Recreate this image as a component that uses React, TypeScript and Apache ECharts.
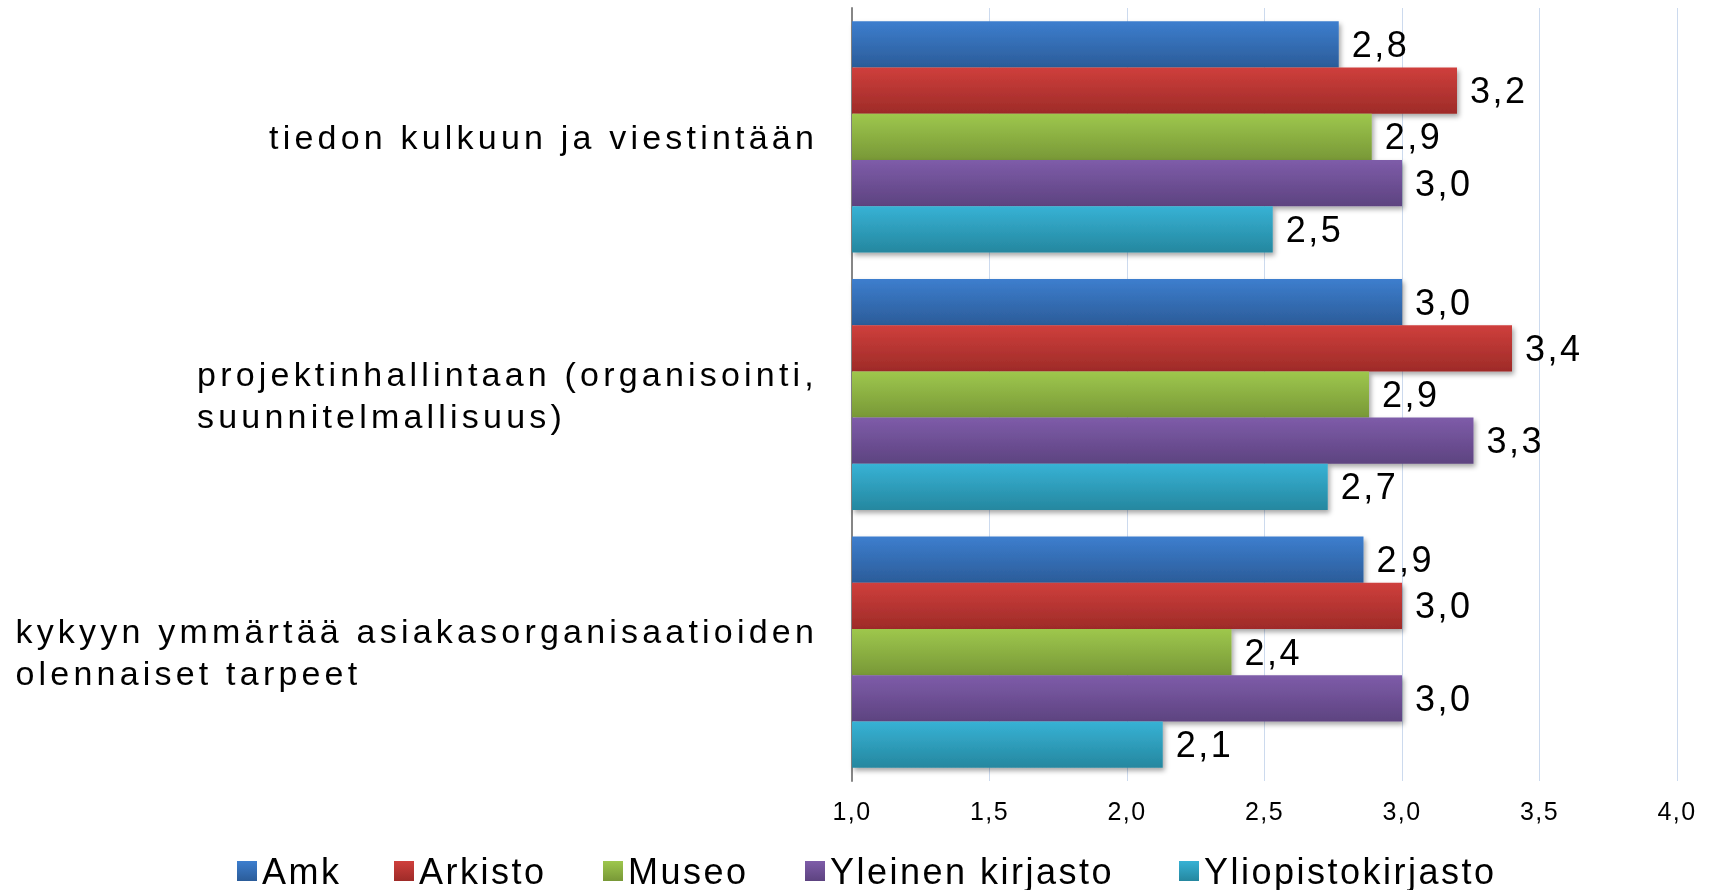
import { useEffect, useRef } from "react";
import * as echarts from "echarts";

// ---- data ----
const categories = [
  "tiedon kulkuun ja viestintään",
  "projektinhallintaan (organisointi,\nsuunnitelmallisuus)",
  "kykyyn ymmärtää asiakasorganisaatioiden\nolennaiset tarpeet",
];
const seriesNames = ["Amk", "Arkisto", "Museo", "Yleinen kirjasto", "Yliopistokirjasto"];
const amk = [2.77, 3.0, 2.86];
const arkisto = [3.2, 3.4, 3.0];
const museo = [2.89, 2.88, 2.38];
const yleinen = [3.0, 3.26, 3.0];
const yliopisto = [2.53, 2.73, 2.13];
const seriesValues = [amk, arkisto, museo, yleinen, yliopisto];
const xMin = 1;
const xMax = 4;
const xStep = 0.5;

// ---- styles ----
const gradientStops: [string, string][] = [
  ["#3D7ECE", "#2B5C99"],
  ["#CF3F3C", "#9E2B28"],
  ["#9EC74D", "#789837"],
  ["#7E5CA9", "#5D4380"],
  ["#37B2D5", "#25879F"],
];
const legendLefts = [232, 389, 598, 800, 1174];
const FONT = '"Liberation Sans", Arial, sans-serif';
const CAT_FONT_SIZE = 34;
const CAT_SPACING = 4.2;

const fmt = (v: number) => v.toFixed(1).replace(".", ",");

function measure(text: string, font: string, spacing: number) {
  const ctx = document.createElement("canvas").getContext("2d");
  if (!ctx) return text.length * 18;
  ctx.font = font;
  return ctx.measureText(text).width + text.length * spacing;
}

export default function App() {
  const ref = useRef<HTMLDivElement>(null);

  useEffect(() => {
    const el = ref.current;
    if (!el) return;
    const chart = echarts.init(el, undefined, { renderer: "svg" });

    const rich: Record<string, any> = {};
    categories.forEach((c, i) => {
      const lines = c.split("\n");
      const w = Math.max(
        ...lines.map((l) => measure(l, `${CAT_FONT_SIZE}px ${FONT}`, CAT_SPACING))
      );
      rich["c" + i] = {
        width: w,
        align: "left",
        fontSize: CAT_FONT_SIZE,
        lineHeight: 42,
        fontFamily: FONT,
        color: "#000",
      };
    });

    const series = seriesNames.map((name, i) => ({
      name,
      type: "bar",
      data: seriesValues[i],
      barGap: "0%",
      barCategoryGap: "10.3%",
      itemStyle: {
        color: new echarts.graphic.LinearGradient(0, 0, 0, 1, [
          { offset: 0, color: gradientStops[i][0] },
          { offset: 1, color: gradientStops[i][1] },
        ]),
        shadowColor: "rgba(0,0,0,0.35)",
        shadowBlur: 5,
        shadowOffsetX: 2,
        shadowOffsetY: 3,
      },
      label: {
        show: true,
        position: "right",
        distance: 13,
        fontSize: 36,
        fontFamily: FONT,
        color: "#000",
        formatter: (p: any) => fmt(p.value as number),
      },
    }));

    const legends = seriesNames.map((name, i) => ({
      data: [name],
      left: legendLefts[i],
      top: 848,
      orient: "horizontal",
      icon: "rect",
      itemWidth: 20,
      itemHeight: 20,
      selectedMode: false,
      textStyle: { fontSize: 36, fontFamily: FONT, color: "#000" },
    }));

    chart.setOption({
      animation: false,
      textStyle: { fontFamily: FONT },
      grid: { left: 852, right: 34, top: 8, bottom: 109, containLabel: false },
      legend: legends,
      xAxis: {
        type: "value",
        min: xMin,
        max: xMax,
        interval: xStep,
        axisLine: { show: false },
        axisTick: { show: false },
        splitLine: { show: true, lineStyle: { color: "#CCDAEE", width: 1 } },
        axisLabel: {
          fontSize: 25,
          fontFamily: FONT,
          color: "#000",
          margin: 17,
          formatter: (v: number) => fmt(v),
        },
      },
      yAxis: {
        type: "category",
        data: categories,
        inverse: true,
        axisLine: { show: true, lineStyle: { color: "#868686", width: 2 } },
        axisTick: { show: false },
        axisLabel: {
          interval: 0,
          margin: 34,
          align: "right",
          formatter: (_v: string, idx: number) =>
            categories[idx]
              .split("\n")
              .map((l) => `{c${idx}|${l}}`)
              .join("\n"),
          rich,
        },
      },
      series,
    });

    const applySpacing = () => {
      el.querySelectorAll("text").forEach((t) => {
        const fs = parseFloat(getComputedStyle(t).fontSize);
        let ls = 0;
        if (fs >= 35) ls = 2.5;
        else if (fs >= 30) ls = CAT_SPACING;
        else if (fs >= 20) ls = 1.5;
        (t as SVGTextElement).style.letterSpacing = ls + "px";
      });
    };
    applySpacing();
    chart.on("finished", applySpacing);

    return () => {
      chart.dispose();
    };
  }, []);

  return (
    <div
      ref={ref}
      style={{ position: "fixed", left: 0, top: 0, width: 1711, height: 890 }}
    />
  );
}
